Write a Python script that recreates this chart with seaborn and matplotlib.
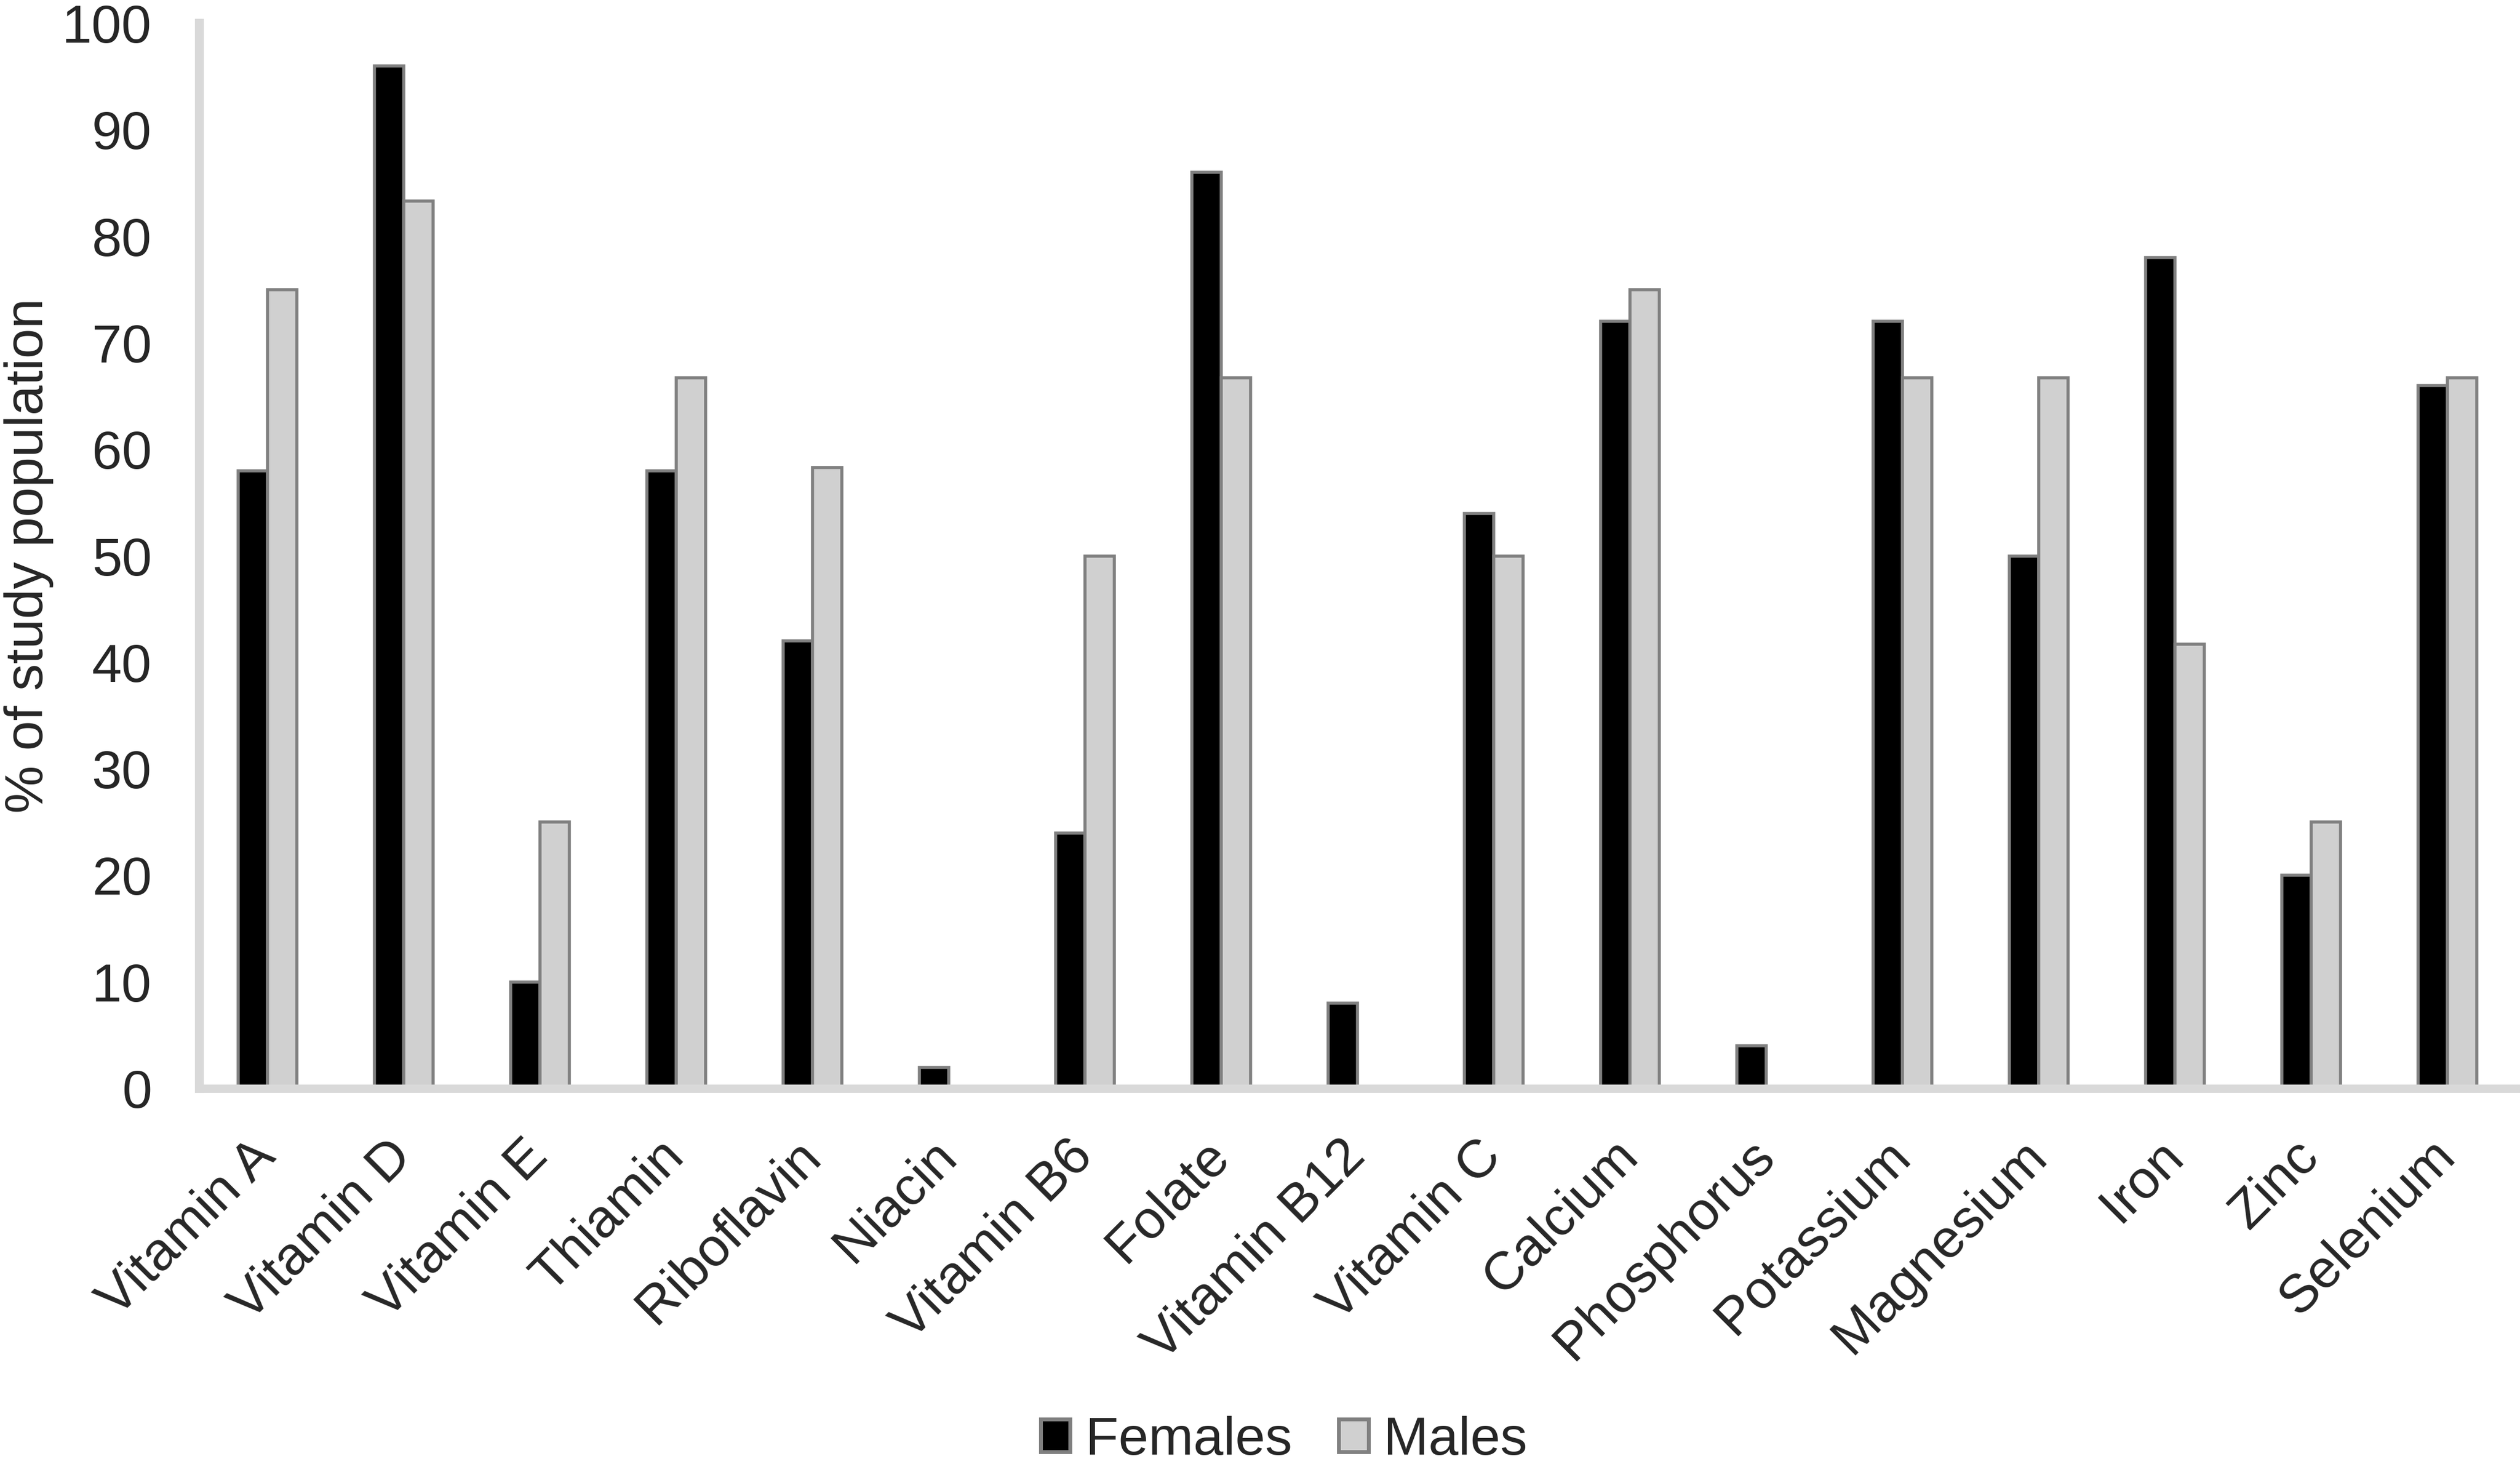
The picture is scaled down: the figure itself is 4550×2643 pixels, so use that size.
import matplotlib
matplotlib.use("Agg")
import matplotlib.pyplot as plt
import seaborn as sns
import pandas as pd

nutrients = ["Vitamin A", "Vitamin D", "Vitamin E", "Thiamin", "Riboflavin",
             "Niacin", "Vitamin B6", "Folate", "Vitamin B12", "Vitamin C",
             "Calcium", "Phosphorus", "Potassium", "Magnesium", "Iron",
             "Zinc", "Selenium"]
females = [58, 96, 10, 58, 42, 2, 24, 86, 8, 54, 72, 4, 72, 50, 78, 20, 66]
males = [75, 83.3, 25, 66.7, 58.3, 0, 50, 66.7, 0, 50, 75, 0, 66.7, 66.7, 41.7, 25, 66.7]

df = pd.DataFrame({"Nutrient": nutrients * 2,
                   "Percent": females + males,
                   "Sex": ["Females"] * len(nutrients) + ["Males"] * len(nutrients)})

sns.set_style("white")
plt.rcParams["font.family"] = ["Liberation Sans", "DejaVu Sans"]

fig = plt.figure(figsize=(22.75, 13.215), dpi=200)
ax = fig.add_axes([0.0791, 0.2565, 0.9191, 0.7276])

pal = {"Females": "black", "Males": "#d0d0d0"}
sns.barplot(data=df, x="Nutrient", y="Percent", hue="Sex", palette=pal,
            width=0.43, gap=0, edgecolor="#808080", linewidth=2,
            saturation=1, ax=ax)

ax.set_ylim(0, 100)
ax.set_xlim(-0.5, len(nutrients) - 0.5)
ax.set_yticks(range(0, 101, 10))
ax.tick_params(axis="y", labelsize=35, length=0, pad=31)
ax.tick_params(axis="x", labelsize=35, length=0, pad=39)
plt.setp(ax.get_xticklabels(), rotation=45, ha="right", va="center",
         rotation_mode="anchor")

ax.set_xlabel("")
ax.set_ylabel("% of study population", fontsize=35)
ax.yaxis.set_label_coords(-0.0628, 0.5)

for s in ["top", "right"]:
    ax.spines[s].set_visible(False)
ax.spines["left"].set_color("#d9d9d9")
ax.spines["left"].set_linewidth(5.8)
ax.spines["bottom"].set_color("#d9d9d9")
ax.spines["bottom"].set_linewidth(5.4)

leg = ax.legend(loc="center", bbox_to_anchor=(0.5095, 0.016), bbox_transform=fig.transFigure,
                ncol=2, frameon=False, fontsize=35, handlelength=0.55, handleheight=0.55,
                handletextpad=0.28, columnspacing=0.87, borderpad=0, borderaxespad=0)
leg.set_title(None)
for h in leg.legend_handles:
    h.set_edgecolor("#808080")
    h.set_linewidth(2.5)

fig.savefig("out.png", dpi=200)
